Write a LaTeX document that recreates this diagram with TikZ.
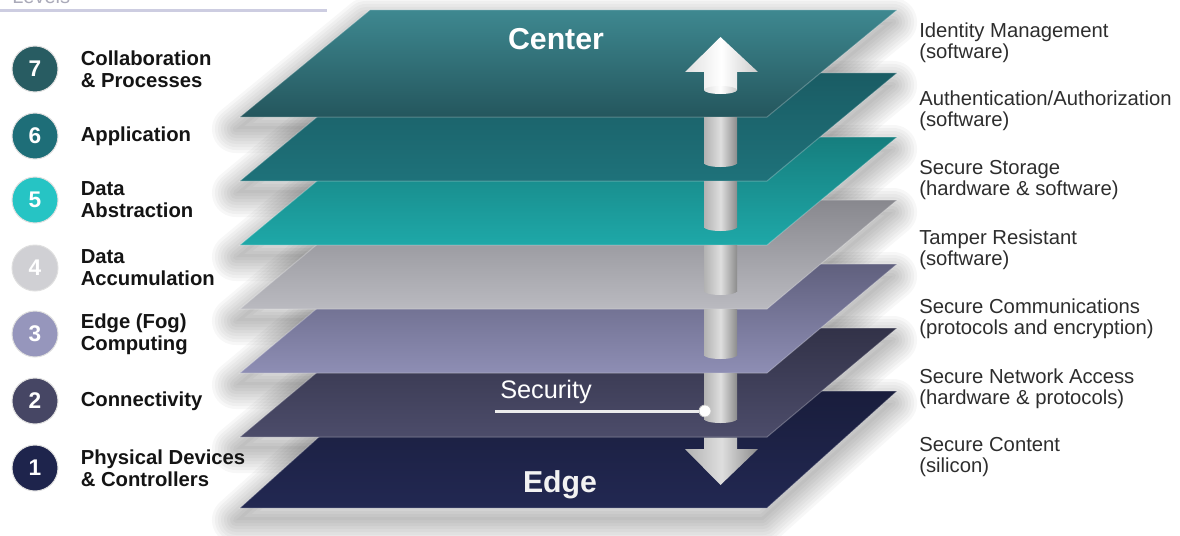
\documentclass[tikz,border=0pt]{standalone}
\usepackage{fontspec}
\setmainfont{Liberation Sans}
\usetikzlibrary{positioning}

% 各层颜色
\definecolor{lyrtop7}{RGB}{62,136,144}
\definecolor{lyrbot7}{RGB}{36,86,93}
\definecolor{lyrtop6}{RGB}{26,92,100}
\definecolor{lyrbot6}{RGB}{30,114,122}
\definecolor{lyrtop5}{RGB}{22,126,126}
\definecolor{lyrbot5}{RGB}{30,168,168}
\definecolor{lyrtop4}{RGB}{136,136,142}
\definecolor{lyrbot4}{RGB}{186,186,192}
\definecolor{lyrtop3}{RGB}{96,96,126}
\definecolor{lyrbot3}{RGB}{142,142,180}
\definecolor{lyrtop2}{RGB}{50,50,72}
\definecolor{lyrbot2}{RGB}{76,76,106}
\definecolor{lyrtop1}{RGB}{25,29,60}
\definecolor{lyrbot1}{RGB}{34,40,82}
% 左边圆圈颜色
\definecolor{ball7}{RGB}{40,92,98}
\definecolor{ball6}{RGB}{30,110,120}
\definecolor{ball5}{RGB}{38,196,196}
\definecolor{ball4}{RGB}{208,208,212}
\definecolor{ball3}{RGB}{150,150,188}
\definecolor{ball2}{RGB}{70,70,100}
\definecolor{ball1}{RGB}{30,36,76}
% 其他
\definecolor{pipeL}{RGB}{178,178,178}
\definecolor{pipeM}{RGB}{222,222,222}
\definecolor{pipeR}{RGB}{140,140,140}
\definecolor{titlegray}{RGB}{170,170,185}
\definecolor{rulecolor}{RGB}{205,205,225}
\definecolor{lbltext}{RGB}{20,20,20}
\definecolor{sectextcol}{RGB}{45,45,45}

\tikzset{
    layershadow/.style={black, opacity=0.03, line join=round, xshift=-3pt, yshift=-9pt},
    pipe/.style={left color=pipeL, right color=pipeR, middle color=pipeM},
    arrowup/.style={left color=white!88!black, right color=white!80!black, middle color=white},
    lvlball/.style={circle, minimum size=34.5pt, inner sep=0pt, draw=gray!25, line width=0.75pt,
        text=white, font=\fontsize{17}{20}\selectfont\bfseries},
    lvltext/.style={inner sep=0pt, align=left, text=lbltext, font=\fontsize{15.2}{16.5}\selectfont\bfseries},
    sectext/.style={anchor=west, inner sep=0pt, align=left, text=sectextcol, font=\fontsize{15.2}{15.75}\selectfont},
    layertitle/.style={text=white, font=\fontsize{22.7}{26}\selectfont\bfseries},
    secdot/.style={circle, minimum size=9pt, inner sep=0pt, fill=white, draw=gray!45, line width=0.6pt},
    secline/.style={draw=white!85!gray, line width=2.25pt}
}

\begin{document}
\begin{tikzpicture}[x=0.75pt, y=-0.75pt]
    % 画布大小
    \useasboundingbox (0,0) rectangle (1180,535);
    \clip (0,0) rectangle (1180,535);

    % 左上角被截掉的标题
    \node[anchor=base west, inner sep=0pt, text=titlegray, font=\fontsize{15}{18}\selectfont] (levels) at (12,3.5) {Levels};
    \draw[rulecolor, line width=2.25pt] (0,11) -- (327,11);

    % 阴影
    \foreach \yt/\yb in {391/508, 328/437, 264/373, 200/309, 137/245, 73/181, 10/117} {
        \fill[layershadow] (240,\yb) -- (767,\yb) -- (897,\yt) -- (370,\yt) -- cycle;
        \foreach \w in {48,42,...,6}
            \draw[layershadow, line width=\w*0.75pt] (240,\yb) -- (767,\yb) -- (897,\yt) -- (370,\yt) -- cycle;
    }

    % 七个平面, 从下往上
    \foreach \i/\yt/\yb in {1/391/508, 2/328/437, 3/264/373, 4/200/309, 5/137/245, 6/73/181, 7/10/117}
        \shadedraw[top color=lyrtop\i, bottom color=lyrbot\i, draw=white, draw opacity=0.25, line width=0.75pt]
            (240,\yb) -- (767,\yb) -- (897,\yt) -- (370,\yt) -- cycle;

    % 中间的柱子
    \foreach \yb in {117,181,245,309,373} {
        \shade[pipe] (704,\yb+0.5) rectangle (737,\yb+46);
        \shade[pipe] (720.5,\yb+46) ellipse [x radius=12.375pt, y radius=3pt];
    }

    % 向上和向下的箭头
    \shade[arrowup] (720.5,37) -- (758,72) -- (737,72) -- (737,90) -- (704,90) -- (704,72) -- (685,72) -- cycle;
    \shade[arrowup] (720.5,90) ellipse [x radius=12.375pt, y radius=3pt];
    \shade[pipe] (704,437.5) -- (737,437.5) -- (737,449) -- (758,449) -- (720.5,485) -- (685,449) -- (704,449) -- cycle;

    % Security 标签
    \node[font=\fontsize{19}{22}\selectfont, text=white, inner sep=0pt] (security) at (546,392) {Security};
    \coordinate (secstart) at (495,411);
    \node[secdot] (dot) at (705,411) {};
    \draw[secline] (secstart) -- (dot);

    \node[layertitle] (center) at (556,39) {Center};
    \node[layertitle, text=white!90!gray] (edge) at (560,485) {Edge};

    % 左边的层号和名称
    \foreach \i/\y/\txt in {7/69/{Collaboration\\\& Processes}, 6/136/Application, 5/200/{Data\\Abstraction},
                            4/268/{Data\\Accumulation}, 3/334/{Edge (Fog)\\Computing}, 2/401/Connectivity,
                            1/468/{Physical Devices\\\& Controllers}} {
        \node[lvlball, fill=ball\i] (lvl\i) at (35,\y) {\i};
        \node[lvltext, right=16.5pt of lvl\i] (lbl\i) {\txt};
    }

    % 右边的安全要素
    \foreach \i/\y/\txt in {7/42.5/{Identity Management\\(software)},
                            6/111/{Authentication/Authorization\\(software)},
                            5/180/{Secure Storage\\(hardware \& software)},
                            4/250/{Tamper Resistant\\(software)},
                            3/319/{Secure Communications\\(protocols and encryption)},
                            2/389/{Secure Network Access\\(hardware \& protocols)},
                            1/457.5/{Secure Content\\(silicon)}}
        \node[sectext] (sec\i) at (919,\y) {\txt};
\end{tikzpicture}
\end{document}
